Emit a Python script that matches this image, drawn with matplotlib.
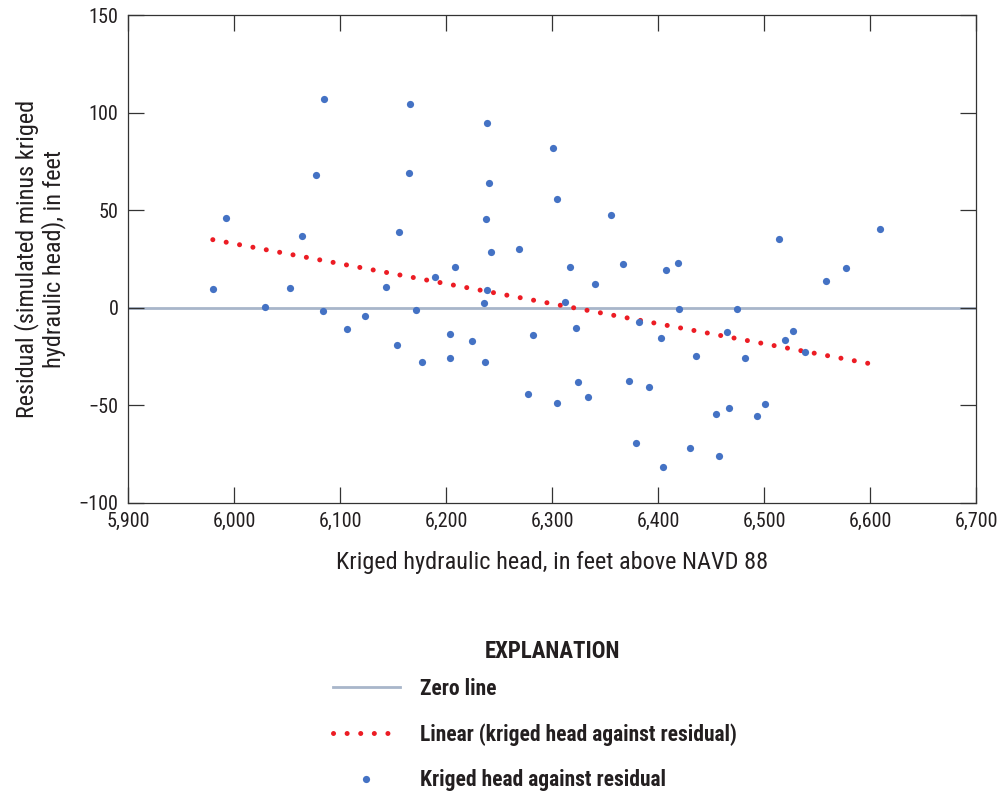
import matplotlib
matplotlib.use("Agg")
import matplotlib.pyplot as plt
from matplotlib.lines import Line2D
from matplotlib.ticker import FuncFormatter
import matplotlib.font_manager as fm

# ---- data ----
kriged_head = [5980, 5992, 6029, 6052.5, 6064, 6077.6, 6085, 6084, 6107, 6124,
               6143.7, 6153.5, 6156, 6164.8, 6165.7, 6172, 6177.7, 6190, 6203.8, 6203.8,
               6208.5, 6224.8, 6235.5, 6236.5, 6237.7, 6238.7, 6238.7, 6241, 6242.5, 6269,
               6277, 6281.8, 6301, 6304.4, 6304.7, 6312.6, 6317.3, 6322.3, 6324.2, 6334.3,
               6340.6, 6356, 6366.7, 6372.3, 6379, 6382, 6391.5, 6402.5, 6404.7, 6407.2,
               6418.6, 6419.5, 6430, 6436, 6454.7, 6458, 6465, 6466.7, 6474.5, 6482,
               6493.7, 6500.6, 6513.9, 6520, 6527.7, 6538.4, 6558.8, 6577, 6609.4]
residual = [9.5, 45.8, 0.4, 9.8, 36.6, 68.2, 106.8, -2.0, -11.2, -4.4,
            10.3, -19.2, 38.8, 68.9, 104.6, -1.4, -27.9, 15.5, -13.7, -25.7,
            20.7, -17.0, 2.5, -27.8, 45.2, 8.8, 94.5, 64.1, 28.3, 29.8,
            -44.3, -13.9, 82.0, 55.7, -49.1, 2.8, 20.7, -10.3, -38.3, -46.0,
            12.2, 47.4, 22.4, -37.5, -69.6, -7.4, -40.9, -15.6, -81.9, 19.4,
            23.0, -0.9, -71.8, -25.0, -54.6, -76.2, -12.6, -51.7, -0.9, -25.9,
            -55.8, -49.6, 35.1, -16.8, -11.9, -23.0, 13.4, 20.2, 40.2]
trend_x = [5980, 6600]
trend_y = [34.8, -28.8]
zero_x = [5900, 6700]
zero_y = [0, 0]
x_ticks = [5900, 6000, 6100, 6200, 6300, 6400, 6500, 6600, 6700]
y_ticks = [-100, -50, 0, 50, 100, 150]

# ---- style ----
names = {f.name for f in fm.fontManager.ttflist}
fam = [n for n in ["Liberation Sans Narrow", "Roboto Condensed", "Liberation Sans"] if n in names]
plt.rcParams["font.family"] = fam + ["DejaVu Sans"]

BLUE = "#4472C4"
RED = "#EC1C24"
ZERO = "#A8B6CA"
AX = "#333333"
TXT = "#231F20"
DOTS = (0, (0.01, 2.71))

fig = plt.figure(figsize=(10, 7.92), dpi=100)
ax = fig.add_axes([0.128, 0.3655, 0.848, 0.6155])

ax.plot(zero_x, zero_y, color=ZERO, lw=2.0, zorder=1)
ax.plot(trend_x, trend_y, color=RED, lw=3.6, linestyle=DOTS,
        dash_capstyle="round", zorder=2)
ax.plot(kriged_head, residual, linestyle="none", marker="o", ms=5.2,
        color=BLUE, mec="none", zorder=3)

ax.set_xlim(5900, 6700)
ax.set_ylim(-100, 150)
ax.set_xticks(x_ticks)
ax.set_yticks(y_ticks)
ax.xaxis.set_major_formatter(FuncFormatter(lambda v, p: f"{int(v):,}"))
ax.yaxis.set_major_formatter(FuncFormatter(lambda v, p: f"{int(v)}".replace("-", "\u2212")))
ax.tick_params(direction="in", length=11.5, width=0.9, color=AX, labelsize=14.5,
               labelcolor=TXT, top=True, right=True, pad=7)
for s in ax.spines.values():
    s.set_color(AX)
    s.set_linewidth(0.9)

ax.set_xlabel("Kriged hydraulic head, in feet above NAVD 88", fontsize=17.5,
              labelpad=14.5, color=TXT)
ax.set_ylabel("Residual (simulated minus kriged\nhydraulic head), in feet", fontsize=17.5,
              labelpad=9, linespacing=1.1, color=TXT)

# ---- explanation ----
fig.text(0.552, 1 - 651 / 792, "EXPLANATION", ha="center", va="center",
         fontsize=16.5, fontweight="bold", color=TXT)
handles = [
    Line2D([], [], color=ZERO, lw=2.0),
    Line2D([], [], color=RED, lw=3.6, linestyle=DOTS, dash_capstyle="round"),
    Line2D([], [], linestyle="none", marker="o", ms=5.2, color=BLUE, mec="none"),
]
labels = ["Zero line", "Linear (kriged head against residual)", "Kriged head against residual"]
leg = fig.legend(handles, labels, loc="upper left", bbox_to_anchor=(0.333, 1 - 678 / 792),
                 frameon=False, borderpad=0, borderaxespad=0, handlelength=3.1,
                 handletextpad=0.92, labelspacing=1.08, numpoints=1,
                 prop={"size": 15.5, "weight": "bold"})
for t in leg.get_texts():
    t.set_color(TXT)

fig.savefig("out.png", dpi=100)
